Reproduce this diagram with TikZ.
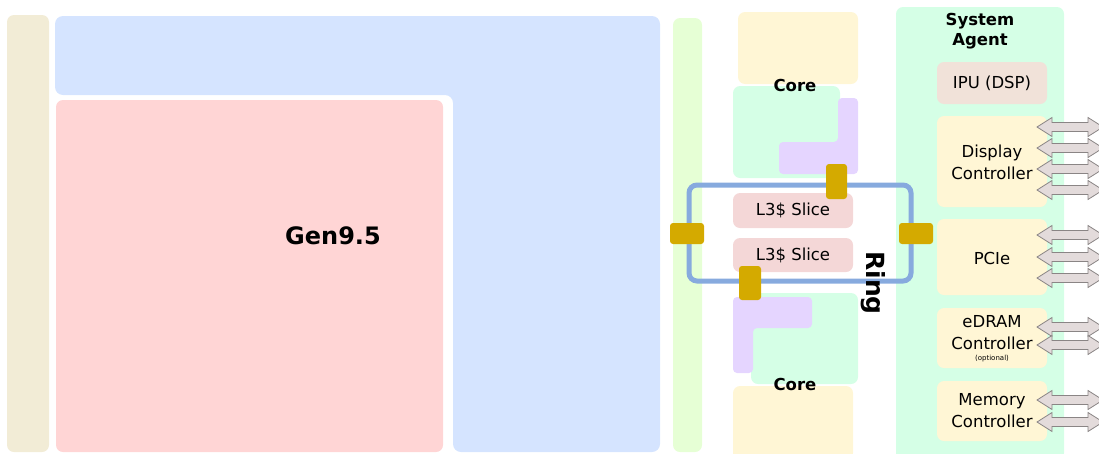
\documentclass[tikz,border=0pt]{standalone}
\usepackage{fontspec}
\setmainfont{DejaVu Sans}
\begin{document}
\definecolor{uncore}{HTML}{F2ECD6}
\definecolor{gpublue}{HTML}{D5E4FF}
\definecolor{gpured}{HTML}{FFD5D5}
\definecolor{lime}{HTML}{E6FFD5}
\definecolor{coreyel}{HTML}{FFF6D5}
\definecolor{mint}{HTML}{D5FFE6}
\definecolor{lilac}{HTML}{E5D5FF}
\definecolor{stop}{HTML}{D4AA00}
\definecolor{ringblue}{HTML}{87AADE}
\definecolor{slice}{HTML}{F4D7D7}
\definecolor{ipu}{HTML}{F1E2D9}
\definecolor{busfill}{HTML}{E3DBDB}
\definecolor{busline}{HTML}{8A8585}
\tikzset{
  blk/.style={rounded corners=7pt},
  small/.style={rounded corners=4pt},
  stopbox/.style={fill=stop, rounded corners=3pt},
  lbl/.style={inner sep=0pt, font=\fontsize{16.5}{22}\selectfont, align=center},
  bold/.style={inner sep=0pt, font=\fontsize{16.5}{20}\selectfont\bfseries, align=center},
  pics/busarrow/.style={code={
    \draw[fill=busfill, draw=busline, line width=0.8pt, line join=miter]
      (0,0) -- (15,-9.5) -- (15,-4.5) -- (51,-4.5) -- (51,-9.5) -- (66,0)
      -- (51,9.5) -- (51,4.5) -- (15,4.5) -- (15,9.5) -- cycle;
  }}
}
\begin{tikzpicture}[x=1pt,y=-1pt]
\useasboundingbox (0,0) rectangle (1099,453);
\clip (0,0) rectangle (1099,453);

% graphics block
\fill[uncore, blk] (7,15) rectangle (49,452);
\fill[gpublue, rounded corners=8pt] (55,16) -- (660,16) -- (660,452) -- (453,452)
  -- (453,95) -- (55,95) -- cycle;
\fill[gpured, blk] (56,100) rectangle (443,452);
\node[bold, font=\fontsize{24}{28}\selectfont\bfseries] (gen) at (333,236) {Gen9.5};

% ring bus bar
\fill[lime, blk] (673,18) rectangle (702,452);

% upper core
\fill[coreyel, blk] (738,12) rectangle (858,84);
\fill[mint, blk] (733,86) rectangle (840,178);
\fill[lilac, small] (838,98) -- (858,98) -- (858,174) -- (779,174) -- (779,142) -- (838,142) -- cycle;
\node[bold] (coreA) at (795,85) {Core};

% lower core
\fill[coreyel, blk] (733,386) rectangle (853,460);
\fill[mint, blk] (751,293) rectangle (858,384);
\fill[lilac, small] (733,297) -- (812,297) -- (812,328) -- (753,328) -- (753,373) -- (733,373) -- cycle;
\node[bold] (coreB) at (795,384) {Core};

% L3 slices
\fill[slice, blk] (733,193) rectangle (853,228);
\node[lbl] (sliceA) at (793,210.5) {L3\$ Slice};
\fill[slice, blk] (733,238) rectangle (853,272);
\node[lbl] (sliceB) at (793,255) {L3\$ Slice};

% system agent
\fill[mint, blk] (896,7) rectangle (1064,460);
\node[bold] (sa) at (980,31) {System\\Agent};
\fill[ipu, blk] (937,62) rectangle (1047,104);
\node[lbl] (ipu) at (992,83) {IPU (DSP)};
\fill[coreyel, blk] (937,116) rectangle (1047,207);
\node[lbl] (disp) at (992,162) {Display\\Controller};
\fill[coreyel, blk] (937,219) rectangle (1047,295);
\node[lbl] (pcie) at (992,258) {PCIe};
\fill[coreyel, blk] (937,308) rectangle (1047,368);
\node[lbl] (edram) at (992,333) {eDRAM\\Controller};
\node[inner sep=0pt, font=\fontsize{7}{8}\selectfont] (opt) at (992,359) {(optional)};
\fill[coreyel, blk] (937,381) rectangle (1047,441);
\node[lbl] (mem) at (992,411) {Memory\\Controller};

% ring
\draw[ringblue, line width=5pt, rounded corners=8pt] (689,185) rectangle (911,281);
\node[inner sep=0pt, font=\fontsize{25}{28}\selectfont\bfseries, rotate=-90] (ring) at (873,283) {Ring};

% ring stops
\fill[stopbox] (826,164) rectangle (847,199);
\fill[stopbox] (670,223) rectangle (704,244);
\fill[stopbox] (899,223) rectangle (933,244);
\fill[stopbox] (739,266) rectangle (761,300);

% external buses
\foreach \y in {127,148,169,190, 235,257,278, 327,345, 400,422}
  \pic at (1037,\y) {busarrow};
\end{tikzpicture}
\end{document}
